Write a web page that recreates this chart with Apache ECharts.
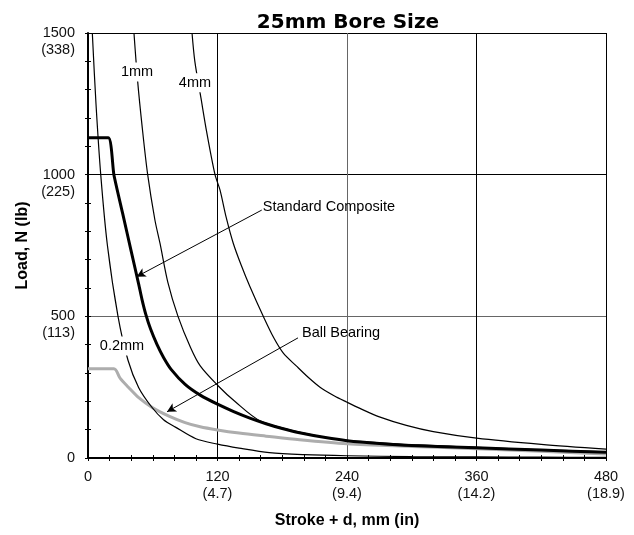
<!DOCTYPE html>
<html>
<head>
<meta charset="utf-8">
<script src="https://cdn.jsdelivr.net/npm/echarts@6/dist/echarts.min.js"></script>
<style>
  html, body { margin: 0; padding: 0; background: #fff; }
  #chart { width: 634px; height: 535px; }
</style>
</head>
<body>
<div id="chart"></div>
<script>
// x ticks (mm) and their inch equivalents
const xTicks = [0, 120, 240, 360, 480]
const xInches = ['', '4.7', '9.4', '14.2', '18.9']
// y ticks (N) and their lb equivalents
const yTicks = [0, 500, 1000, 1500]
const yPounds = ['', '113', '225', '338']

// deflection curves (thin black)
const stroke02 = [4, 7.4, 11.8, 18, 27.8, 37, 47, 59, 70, 81, 100, 120, 140, 168, 200, 240, 300, 360, 420, 480]
const load02 = [1500, 1250, 1000, 750, 500, 346, 248, 180, 135, 109, 68, 49, 35, 19, 12, 8, 5, 4, 3, 2]

const stroke1 = [42.6, 46, 50.3, 55.3, 62, 66.7, 74, 83.4, 95, 104, 120.5, 136, 160, 200, 240, 300, 360, 420, 480]
const load1 = [1500, 1330, 1165, 1000, 840, 758, 620, 500, 390, 325, 255, 200, 130, 88, 62, 47, 38, 29, 22]

const stroke4 = [96.4, 99, 104.7, 110, 117.7, 122.3, 128, 134.6, 142, 150, 162.4, 172, 181, 193, 204, 215, 228, 240, 252, 270, 295, 320, 360, 420, 480]
const load4 = [1500, 1400, 1270, 1150, 1000, 946, 850, 758, 680, 605, 500, 425, 370, 325, 285, 250, 220, 197, 175, 145, 115, 93, 70, 48, 31]

// bearing types
const strokeStd = [0, 18.8, 24, 32, 40, 47, 50, 53.7, 58, 64, 70, 77, 90, 104, 120, 135, 150, 165, 180, 196, 220, 240, 270, 300, 360, 420, 480]
const loadStd = [1130, 1130, 1000, 865, 730, 613, 560, 505, 455, 400, 355, 313, 260, 222, 190, 164, 141, 121, 104, 89, 72, 61, 51, 44, 36, 28, 20]

const strokeBall = [0, 24, 29.7, 37.4, 47, 60, 75, 90, 104, 120, 140, 165, 196, 240, 300, 360, 420, 480]
const loadBall = [315, 315, 282, 250, 213, 177, 148, 125, 110, 99, 88, 77, 64, 50, 41, 33, 24, 14]

function pairs(xs, ys) {
  return xs.map((x, i) => [x, ys[i]])
}

const FONT = 'Liberation Sans, Arial, sans-serif'

// curve labels sit on top of the curves, with a white box
function curveLabel(text, coord) {
  return {
    coord: coord,
    symbol: 'rect',
    symbolSize: 0,
    label: {
      show: true,
      position: 'inside',
      formatter: text,
      color: '#000',
      fontFamily: FONT,
      fontSize: 14.5,
      backgroundColor: '#fff',
      padding: [2, 1]
    }
  }
}

function noteLabel(text, coord) {
  return {
    coord: coord,
    symbol: 'rect',
    symbolSize: 0,
    label: {
      show: true,
      position: 'right',
      distance: 0,
      formatter: text,
      color: '#000',
      fontFamily: FONT,
      fontSize: 14.5
    }
  }
}

function arrow(from, to) {
  return [{coord: from}, {coord: to}]
}

function thinSeries(name, data, marks) {
  return {
    name: name,
    type: 'line',
    data: data,
    symbol: 'none',
    smooth: 0.3,
    lineStyle: {color: '#000', width: 1.2},
    z: 3,
    markPoint: {silent: true, data: marks}
  }
}

const chart = echarts.init(document.getElementById('chart'))

// second pair of axes only draws the ticks on the inner side,
// so ticks cross the axis lines like the original
function inwardAxis(pos, max, interval, minorSplit) {
  return {
    type: 'value',
    position: pos,
    min: 0,
    max: max,
    interval: interval,
    axisLine: {show: false, onZero: false},
    axisLabel: {show: false},
    splitLine: {show: false},
    axisTick: {show: true, inside: true, length: 3, lineStyle: {color: '#000'}},
    minorTick: {show: true, splitNumber: minorSplit, length: 3, lineStyle: {color: '#000'}}
  }
}

chart.setOption({
  animation: false,
  title: {
    text: '25mm Bore Size',
    left: 343,
    textAlign: 'center',
    top: 8,
    textStyle: {fontFamily: 'DejaVu Sans, sans-serif', fontWeight: 900, fontSize: 20, color: '#000'}
  },
  grid: {left: 88, right: 28, top: 33, bottom: 77},
  xAxis: [
    {
      type: 'value',
      position: 'bottom',
      min: 0,
      max: 480,
      interval: 120,
      name: 'Stroke + d, mm (in)',
      nameLocation: 'middle',
      nameGap: 55,
      nameTextStyle: {fontFamily: FONT, fontWeight: 'bold', fontSize: 16, color: '#000'},
      axisLine: {lineStyle: {color: '#000', width: 2}},
      axisTick: {show: true, length: 3, lineStyle: {color: '#000'}},
      minorTick: {show: true, splitNumber: 6, length: 3, lineStyle: {color: '#000'}},
      splitLine: {show: true, lineStyle: {color: ['#000', '#000', '#666', '#000', '#000'], width: 1}},
      axisLabel: {
        margin: 10,
        fontFamily: FONT,
        fontSize: 14.5,
        lineHeight: 17,
        color: '#111',
        formatter: function(v) {
          const i = xTicks.indexOf(v)
          return xInches[i] ? v + '\n(' + xInches[i] + ')' : String(v)
        }
      }
    },
    inwardAxis('bottom', 480, 120, 6)
  ],
  yAxis: [
    {
      type: 'value',
      position: 'left',
      min: 0,
      max: 1500,
      interval: 500,
      name: 'Load, N (lb)',
      nameLocation: 'middle',
      nameGap: 47,
      nameRotate: 90,
      nameTextStyle: {fontFamily: FONT, fontWeight: 'bold', fontSize: 16, color: '#000'},
      axisLine: {show: true, lineStyle: {color: '#000', width: 2}},
      axisTick: {show: true, length: 3, lineStyle: {color: '#000'}},
      minorTick: {show: true, splitNumber: 5, length: 3, lineStyle: {color: '#000'}},
      splitLine: {show: true, lineStyle: {color: ['#000', '#666', '#000', '#000'], width: 1}},
      axisLabel: {
        margin: 13,
        fontFamily: FONT,
        fontSize: 14.5,
        lineHeight: 17,
        color: '#111',
        formatter: function(v) {
          const i = yTicks.indexOf(v)
          // blank first line keeps the N value centred on the tick
          return yPounds[i] ? ' \n' + v + '\n(' + yPounds[i] + ')' : String(v)
        }
      }
    },
    inwardAxis('left', 1500, 500, 5)
  ],
  series: [
    {
      name: 'Ball Bearing',
      type: 'line',
      data: pairs(strokeBall, loadBall),
      symbol: 'none',
      smooth: 0.3,
      lineStyle: {color: '#adadad', width: 3},
      z: 2,
      markPoint: {silent: true, data: [noteLabel('Ball Bearing', [198.3, 441])]},
      markLine: {
        silent: true,
        symbol: ['none', 'arrow'],
        symbolSize: [7, 9],
        label: {show: false},
        lineStyle: {color: '#000', width: 1, type: 'solid'},
        data: [arrow([194.6, 424], [73.2, 163])]
      }
    },
    thinSeries('0.2mm', pairs(stroke02, load02), [curveLabel('0.2mm', [31.5, 395])]),
    thinSeries('1mm', pairs(stroke1, load1), [curveLabel('1mm', [45.4, 1362])]),
    thinSeries('4mm', pairs(stroke4, load4), [curveLabel('4mm', [99.1, 1324])]),
    {
      name: 'Standard Composite',
      type: 'line',
      data: pairs(strokeStd, loadStd),
      symbol: 'none',
      smooth: 0.2,
      lineStyle: {color: '#000', width: 3},
      z: 4,
      markPoint: {silent: true, data: [noteLabel('Standard Composite', [162, 886])]},
      markLine: {
        silent: true,
        symbol: ['none', 'arrow'],
        symbolSize: [7, 9],
        label: {show: false},
        lineStyle: {color: '#000', width: 1, type: 'solid'},
        data: [arrow([161, 875], [45.1, 640])]
      }
    }
  ]
})
</script>
</body>
</html>
